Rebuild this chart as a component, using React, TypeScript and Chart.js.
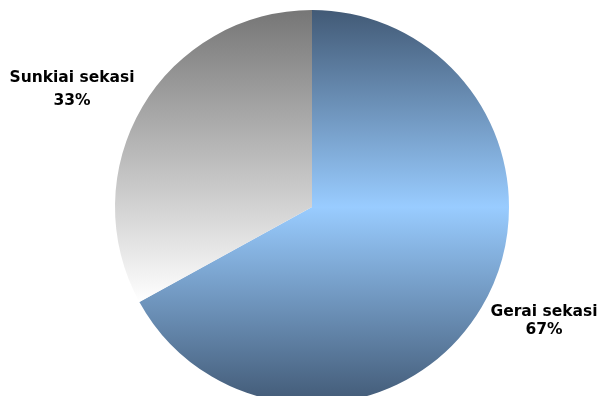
import React, { useEffect, useRef } from "react";
import { Chart, registerables } from "chart.js";

Chart.register(...registerables);

const categories = ["Gerai sekasi", "Sunkiai sekasi"];
const values = [67, 33];
const percentLabels = ["67%", "33%"];

export default function App() {
  const ref = useRef<HTMLCanvasElement | null>(null);

  useEffect(() => {
    document.body.style.margin = "0";
    const canvas = ref.current!;
    const labelPlugin = {
      id: "pieLabels",
      afterDraw(chart: any) {
        const ctx = chart.ctx;
        ctx.save();
        ctx.fillStyle = "#000000";
        ctx.font = "bold 15.5px 'DejaVu Sans'";
        ctx.textAlign = "center";
        ctx.textBaseline = "alphabetic";
        const pos = [
          { x: 544, y1: 316, y2: 334 },
          { x: 72, y1: 82, y2: 105 },
        ];
        categories.forEach((c, i) => {
          ctx.fillText(c, pos[i].x, pos[i].y1);
          ctx.fillText(percentLabels[i], pos[i].x, pos[i].y2);
        });
        ctx.restore();
      },
    };

    const chart = new Chart(canvas, {
      type: "pie",
      data: {
        labels: categories,
        datasets: [
          {
            data: values,
            borderWidth: 0,
            backgroundColor: (ctx: any) => {
              const ch = ctx.chart;
              const area = ch.chartArea;
              if (!area) return "#99ccff";
              const c = ch.ctx;
              if (ctx.dataIndex === 0) {
                const g = c.createLinearGradient(0, area.top, 0, area.bottom);
                g.addColorStop(0, "#425a76");
                g.addColorStop(0.5, "#99ccff");
                g.addColorStop(1, "#425a76");
                return g;
              }
              const g = c.createLinearGradient(0, area.top, 0, 302);
              g.addColorStop(0, "#767676");
              g.addColorStop(1, "#ffffff");
              return g;
            },
          },
        ],
      },
      options: {
        animation: false,
        responsive: false,
        maintainAspectRatio: false,
        layout: { padding: { top: 10, bottom: 6, left: 25, right: 0 } },
        plugins: {
          legend: { display: false },
          tooltip: { enabled: false },
        },
      },
      plugins: [labelPlugin],
    });
    return () => chart.destroy();
  }, []);

  return (
    <div style={{ position: "fixed", left: 0, top: 0, width: 599, height: 396, overflow: "hidden", background: "#ffffff" }}>
      <canvas ref={ref} width={599} height={410} style={{ width: 599, height: 410, display: "block" }} />
    </div>
  );
}
